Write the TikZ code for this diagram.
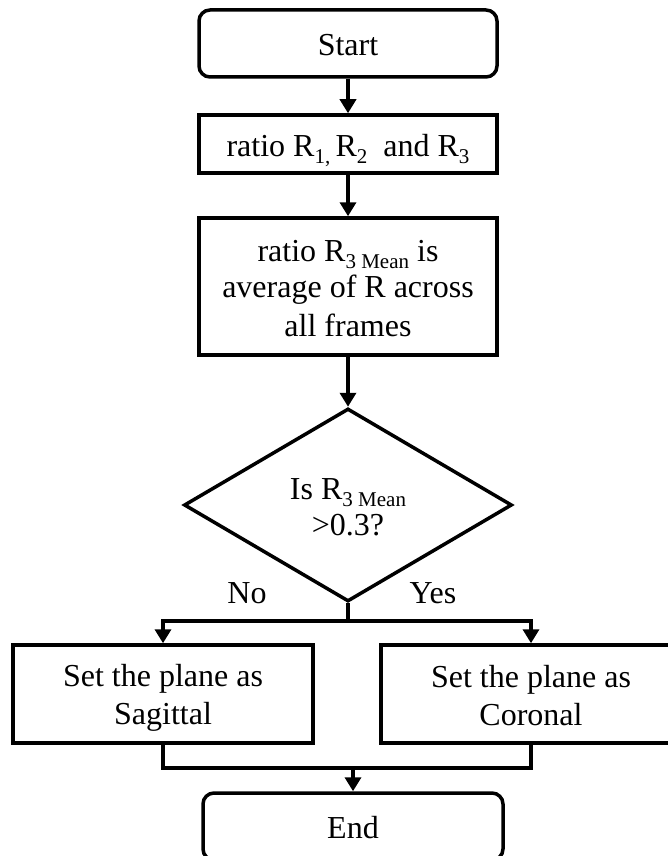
\documentclass[tikz,border=0pt]{standalone}
\usepackage{fontspec}
\setmainfont{Liberation Serif}
\usetikzlibrary{shapes.geometric,arrows.meta}
% lowered, smaller index text (kept out of the line height)
\newcommand\lowidx[1]{\smash{\raisebox{-7pt}{\fontsize{21}{21}\selectfont #1}}}
% fixed line height so every text line sits on the same pitch
\newcommand\linestrut{\rule[-6pt]{0pt}{36.5pt}}
\begin{document}
\begin{tikzpicture}[x=1pt,y=-1pt,
  every node/.style={font=\fontsize{32}{36.5}\selectfont, text=black},
  box/.style={draw, line width=3.5pt, minimum width=298pt, align=center, inner sep=0pt},
  terminal/.style={box, rounded corners=11pt},
  decision/.style={draw, diamond, line width=3.5pt, minimum width=328pt,
                   minimum height=193pt, inner sep=0pt, align=center},
  link/.style={line width=3.5pt},
  arrow/.style={link, -{Triangle[length=14pt,width=16pt]}},
  lbl/.style={anchor=base}]

\clip (0,0) rectangle (668,856);

% main column
\node[terminal, minimum height=67pt] (start) at (348,43.5) {\linestrut Start};
\node[box, minimum height=58pt] (ratios) at (348,144)
  {\linestrut ratio R\lowidx{1,}\,R\lowidx{2}\ \ and R\lowidx{3}};
\node[box, minimum height=137pt] (mean) at (348,286.5)
  {\linestrut ratio R\lowidx{3 Mean} is\\\linestrut average of R across\\\linestrut all frames};
\node[decision] (dec) at (348,505) {\linestrut Is R\lowidx{3 Mean}\\\linestrut >0.3?};

% branch labels
\node[lbl] (nolbl) at (247,603) {No};
\node[lbl] (yeslbl) at (433,603) {Yes};

% outcomes
\node[box, minimum width=300pt, minimum height=98pt] (sag) at (163,694)
  {\linestrut Set the plane as\\\linestrut Sagittal};
\node[box, minimum width=300pt, minimum height=98pt] (cor) at (531,694)
  {\linestrut Set the plane as\\\linestrut Coronal};
\node[terminal, minimum width=300pt, minimum height=67pt] (end) at (353,826.5) {\linestrut End};

% junction points
\coordinate (split) at (348,621);
\coordinate (merge) at (353,768);

% connectors
\draw[arrow] (start) -- (ratios);
\draw[arrow] (ratios) -- (mean);
\draw[arrow] (mean) -- (dec);
\draw[link] (dec.south) -- (split);
\draw[arrow] (split) -| (sag.north);
\draw[arrow] (split) -| (cor.north);
\draw[link] (sag.south) |- (merge) -| (cor.south);
\draw[arrow] (merge) -- (end.north);
\end{tikzpicture}
\end{document}
